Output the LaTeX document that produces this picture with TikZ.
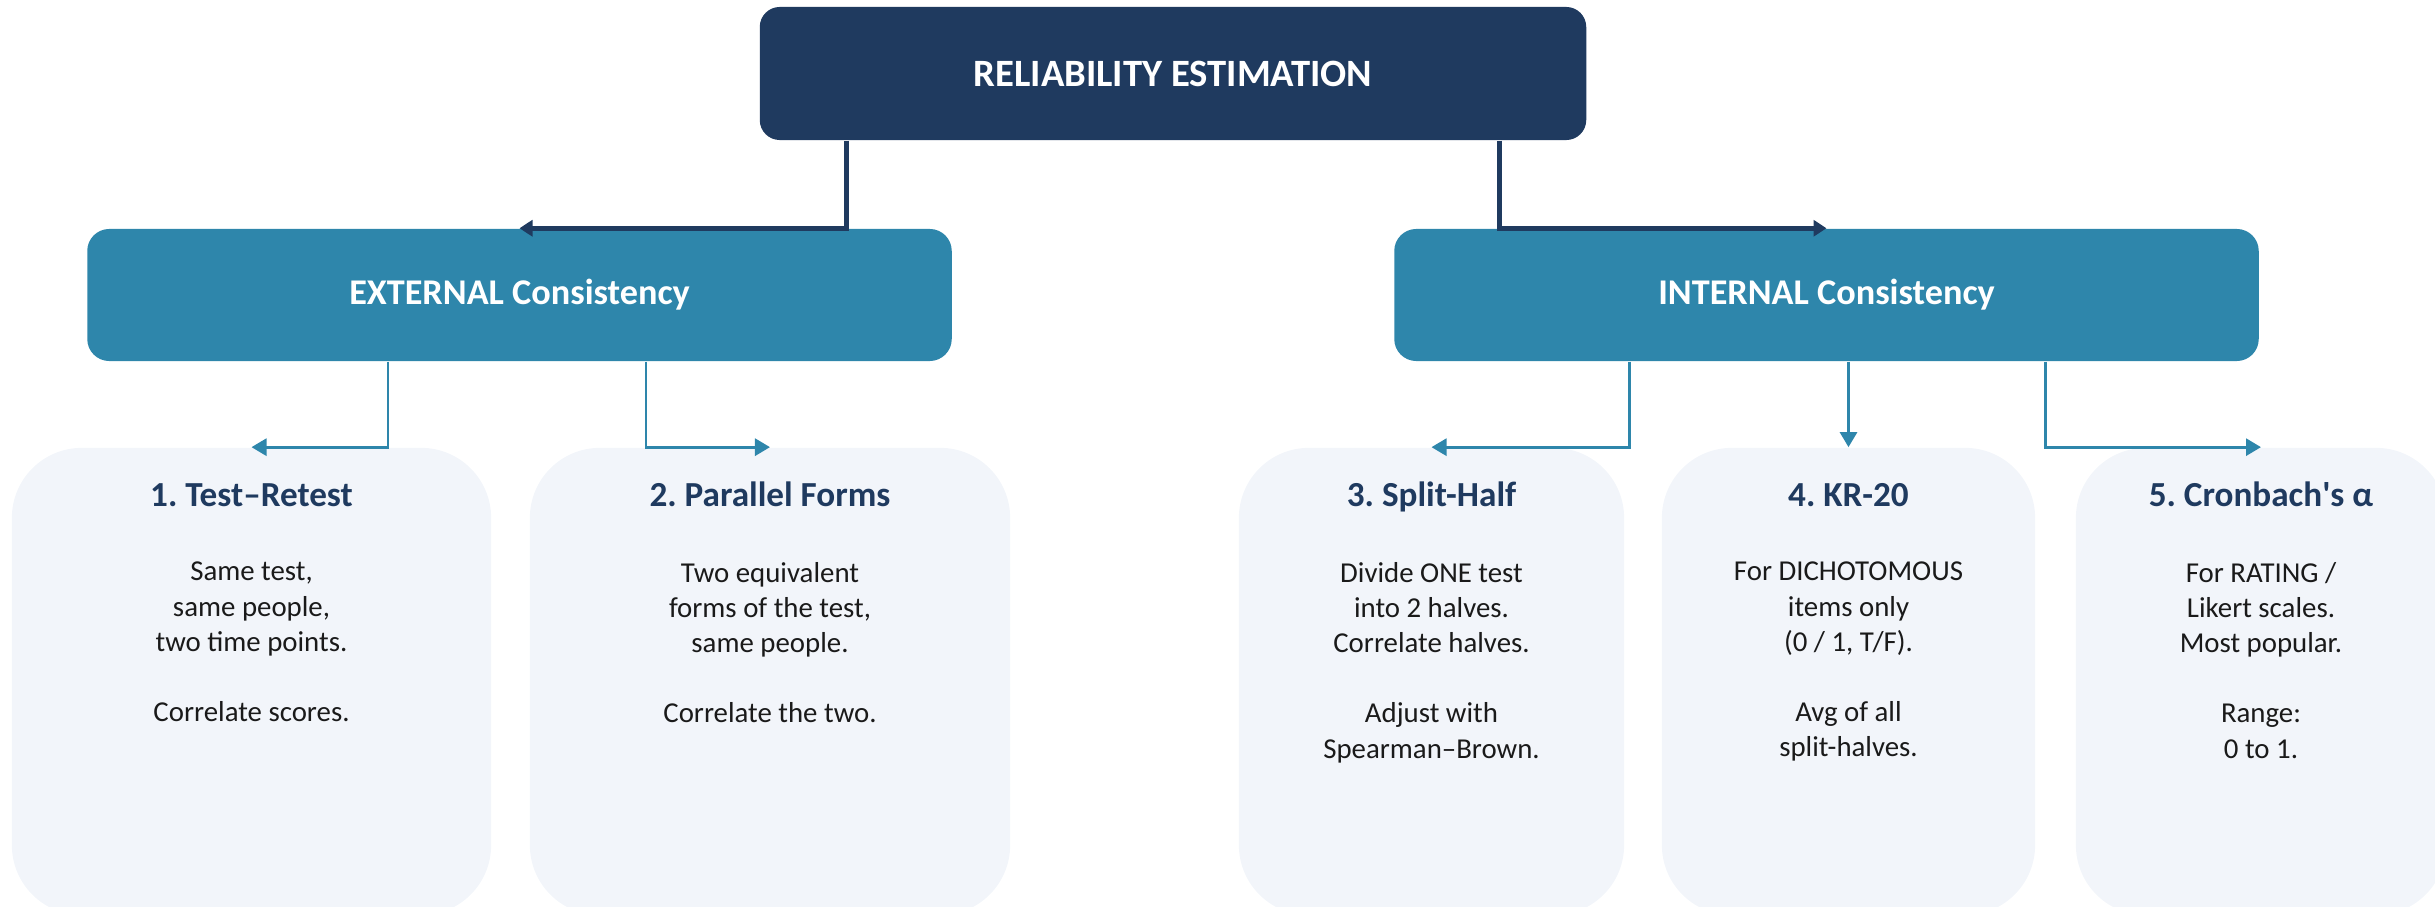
\documentclass[tikz,border=0pt]{standalone}
\usepackage{fontspec}
\setmainfont{Carlito}
\usetikzlibrary{arrows.meta,positioning}
\definecolor{navy}{HTML}{1F3A5F}
\definecolor{seablue}{HTML}{2E86AB}
\definecolor{leafbg}{HTML}{F2F5FA}
\definecolor{ink}{HTML}{1A1A1A}
\frenchspacing

\begin{document}
\begin{tikzpicture}[x=0.01cm, y=-0.01cm,
    every node/.style={font=\fontsize{8.2}{10}\selectfont, text=ink},
    rootbox/.style={rectangle, rounded corners=0.2cm, fill=navy, text=white, minimum width=8.26cm, minimum height=1.33cm, font=\bfseries\fontsize{11}{13}\selectfont},
    groupbox/.style={rectangle, rounded corners=0.22cm, fill=seablue, text=white, minimum width=8.64cm, minimum height=1.32cm, font=\bfseries\fontsize{10.3}{12}\selectfont},
    leafbox/.style={rectangle, rounded corners=0.7cm, fill=leafbg, minimum height=4.67cm},
    leaftitle/.style={font=\bfseries\fontsize{10}{12}\selectfont, text=navy, anchor=base},
    leaftext/.style={align=center, anchor=north, inner sep=0pt, execute at begin node=\strut},
    rootarrow/.style={line width=1.4pt, draw=navy, -{Triangle[length=0.13cm, width=0.16cm]}},
    grouparrow/.style={line width=0.8pt, draw=seablue, -{Triangle[length=0.15cm, width=0.17cm]}}]
    \useasboundingbox (0,0) rectangle (2435,907);
    \clip (0,0) rectangle (2435,907);
    % top and the two groups
    \node[rootbox] (root) at (1173,73.5) {RELIABILITY ESTIMATION};
    \node[groupbox] (ext) at (519.5,295) {EXTERNAL Consistency};
    \node[groupbox] (int) at (1826.5,295) {INTERNAL Consistency};
    % method cards
    \node[leafbox, minimum width=4.79cm] (b1) at (251.5,681.5) {};
    \node[leafbox, minimum width=4.80cm] (b2) at (770,681.5) {};
    \node[leafbox, minimum width=3.85cm] (b3) at (1431.5,681.5) {};
    \node[leafbox, minimum width=3.73cm] (b4) at (1848.5,681.5) {};
    \node[leafbox, minimum width=3.70cm] (b5) at (2261,681.5) {};
    \node[leaftitle] (t1) at ([yshift=-0.59cm]b1.north) {1. Test--Retest};
    \node[leaftitle] (t2) at ([yshift=-0.59cm]b2.north) {2. Parallel Forms};
    \node[leaftitle] (t3) at ([yshift=-0.59cm]b3.north) {3. Split-Half};
    \node[leaftitle] (t4) at ([yshift=-0.59cm]b4.north) {4. KR-20};
    \node[leaftitle] (t5) at ([yshift=-0.59cm]b5.north) {5. Cronbach\textquotesingle s α};
    \node[leaftext] (d1) at ([yshift=-1.143cm]b1.north) {Same test,\\same people,\\two time points.\\[10pt]Correlate scores.};
    \node[leaftext] (d2) at ([yshift=-1.143cm]b2.north) {Two equivalent\\forms of the test,\\same people.\\[10pt]Correlate the two.};
    \node[leaftext] (d3) at ([yshift=-1.143cm]b3.north) {Divide ONE test\\into 2 halves.\\Correlate halves.\\[10pt]Adjust with\\Spearman--Brown.};
    \node[leaftext] (d4) at ([yshift=-1.143cm]b4.north) {For DICHOTOMOUS\\items only\\(0 / 1, T/F).\\[10pt]Avg of all\\split-halves.};
    \node[leaftext] (d5) at ([yshift=-1.143cm]b5.north) {For RATING /\\Likert scales.\\Most popular.\\[10pt]Range:\\0 to 1.};
    % connectors
    \draw[rootarrow] ([xshift=-3.26cm]root.south) |- (ext.north);
    \draw[rootarrow] ([xshift=3.26cm]root.south) |- (int.north);
    \draw[grouparrow] ([xshift=-1.315cm]ext.south) |- (b1.north);
    \draw[grouparrow] ([xshift=1.265cm]ext.south) |- (b2.north);
    \draw[grouparrow] ([xshift=-1.965cm]int.south) |- (b3.north);
    \draw[grouparrow] (b4.north |- int.south) -- (b4.north);
    \draw[grouparrow] ([xshift=2.185cm]int.south) |- (b5.north);
\end{tikzpicture}
\end{document}
